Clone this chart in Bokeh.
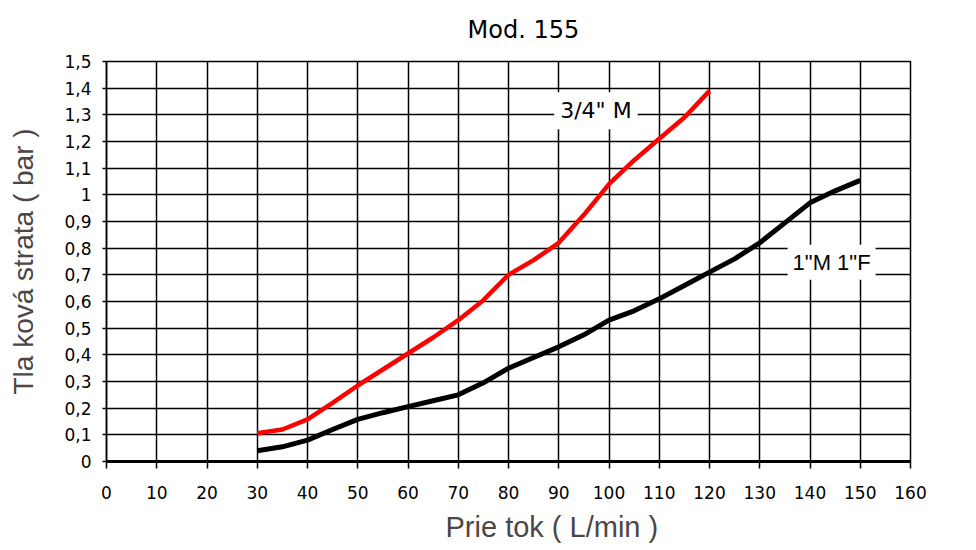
from bokeh.plotting import figure
from bokeh.models import Range1d, FixedTicker, Label, Title
from bokeh.embed import file_html
from bokeh.resources import INLINE

# ---- data ----
title_text = "Mod. 155"
x_axis_title = "Prie tok ( L/min )"
y_axis_title = "Tla ková strata ( bar )"

x_ticks = [0, 10, 20, 30, 40, 50, 60, 70, 80, 90, 100, 110, 120, 130, 140, 150, 160]
x_tick_labels = ["0", "10", "20", "30", "40", "50", "60", "70", "80", "90",
                 "100", "110", "120", "130", "140", "150", "160"]
y_ticks = [0, 0.1, 0.2, 0.3, 0.4, 0.5, 0.6, 0.7, 0.8, 0.9, 1.0,
           1.1, 1.2, 1.3, 1.4, 1.5]
y_tick_labels = ["0", "0,1", "0,2", "0,3", "0,4", "0,5", "0,6", "0,7", "0,8", "0,9",
                 "1", "1,1", "1,2", "1,3", "1,4", "1,5"]

series_names = ['3/4" M', '1"M 1"F']

flow_34 = [30, 35, 40, 45, 50, 55, 60, 65, 70, 75, 80, 85, 90, 95, 100, 105, 110, 115, 120]
loss_34 = [0.106, 0.12, 0.158, 0.22, 0.285, 0.345, 0.405, 0.465, 0.53, 0.605, 0.70,
           0.755, 0.82, 0.925, 1.04, 1.13, 1.21, 1.29, 1.39]

flow_1 = [30, 35, 40, 45, 50, 55, 60, 65, 70, 75, 80, 85, 90, 95, 100, 105, 110,
          115, 120, 125, 130, 135, 140, 145, 150]
loss_1 = [0.04, 0.055, 0.08, 0.12, 0.158, 0.183, 0.206, 0.228, 0.25, 0.295, 0.35,
          0.39, 0.43, 0.475, 0.53, 0.565, 0.61, 0.66, 0.71, 0.76, 0.82, 0.895,
          0.97, 1.015, 1.054]

# ---- figure ----
p = figure(width=970, height=550,
           x_range=Range1d(0, 160), y_range=Range1d(0, 1.5),
           output_backend="svg", toolbar_location=None,
           min_border_left=106, min_border_right=60,
           min_border_top=60, min_border_bottom=89,
           background_fill_color="white", border_fill_color="white")

p.title.text = title_text
p.title.align = "left"
p.title.offset = 361
p.title.vertical_align = "top"
p.title.text_font = "DejaVu Sans"
p.title.text_font_size = "24px"
p.title.text_font_style = "normal"
p.title.text_color = "black"
p.title.standoff = 31

p.outline_line_color = "black"
p.outline_line_width = 1.5
p.outline_line_alpha = 1.0

# grid
p.xgrid.ticker = FixedTicker(ticks=x_ticks)
p.ygrid.ticker = FixedTicker(ticks=y_ticks)
for g in (p.xgrid, p.ygrid):
    g.grid_line_color = "black"
    g.grid_line_width = 1.5
    g.grid_line_alpha = 1.0

# axes
p.xaxis.ticker = FixedTicker(ticks=x_ticks)
p.yaxis.ticker = FixedTicker(ticks=y_ticks)
p.xaxis.major_label_overrides = dict(zip(x_ticks, x_tick_labels))
p.yaxis.major_label_overrides = dict(zip(y_ticks, y_tick_labels))

for ax in (p.xaxis[0], p.yaxis[0]):
    ax.major_label_text_font = "DejaVu Sans"
    ax.major_label_text_font_size = "17px"
    ax.major_label_text_color = "black"
    ax.axis_label_text_font = "Liberation Sans"
    ax.axis_label_text_font_size = "28px"
    ax.axis_label_text_font_style = "normal"
    ax.axis_label_text_color = "#4d4646"
    ax.minor_tick_line_color = None
    ax.major_tick_line_color = "black"
    ax.major_tick_line_width = 1.5
    ax.major_tick_in = 0
    ax.axis_line_color = "black"

p.yaxis.axis_label = y_axis_title
p.xaxis.axis_line_width = 3
p.yaxis.axis_line_width = 1.5
p.xaxis.major_tick_out = 7
p.yaxis.major_tick_out = 4
p.xaxis.major_label_standoff = 17
p.yaxis.major_label_standoff = 11
p.yaxis.axis_label_standoff = 22

# x axis title as a panel below the axis (shifted like the reference)
p.add_layout(Title(text=x_axis_title, align="left", offset=339,
                   text_font="Liberation Sans", text_font_size="29px",
                   text_font_style="normal", text_color="#4d4646",
                   standoff=14), "below")

# curves
p.line(flow_34, loss_34, line_color="#ff0000", line_width=4.5)
p.line(flow_1, loss_1, line_color="black", line_width=5)

# series labels
p.add_layout(Label(x=97.4, y=1.315, text=series_names[0], text_align="center",
                   text_baseline="middle", text_font="DejaVu Sans",
                   text_font_size="22px", text_color="black",
                   background_fill_color="white", padding=6))
p.add_layout(Label(x=144.3, y=0.747, text=series_names[1], text_align="center",
                   text_baseline="middle", text_font="Liberation Sans",
                   text_font_size="22px", text_color="black",
                   background_fill_color="white", padding=5))

open("out.html", "w").write(file_html(p, INLINE))
